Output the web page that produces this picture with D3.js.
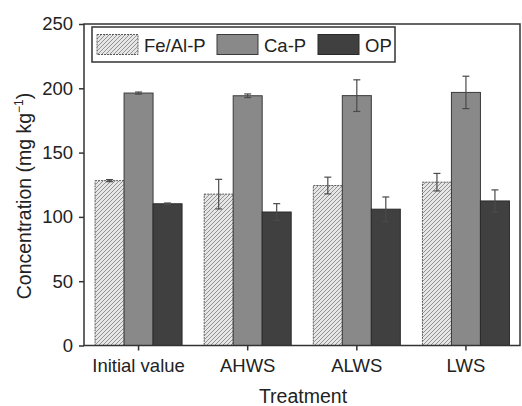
<!DOCTYPE html>
<html><head><meta charset="utf-8">
<script src="https://cdn.jsdelivr.net/npm/d3@7"></script>
<style>
html,body{margin:0;padding:0;background:#fff;}
svg{display:block;font-family:"Liberation Sans",Arial,sans-serif;}
</style></head>
<body><svg id="c" width="522" height="406"></svg>
<script>
const categories = ["Initial value","AHWS","ALWS","LWS"];
const seriesNames = ["Fe/Al-P","Ca-P","OP"];
const feAlP = [128.2, 117.7, 124.4, 127.0];
const feAlPErr = [0.8, 11.5, 6.5, 6.8];
const caP = [196.3, 194.2, 194.3, 196.8];
const caPErr = [0.8, 1.4, 12.3, 12.6];
const op = [110.2, 103.8, 106.0, 112.4];
const opErr = [0.6, 6.5, 9.5, 8.6];
const yTicks = [0,50,100,150,200,250];

const values = [feAlP, caP, op];
const errs = [feAlPErr, caPErr, opErr];
const fills = ["url(#hatch)", "#898989", "#404040"];
const strokes = ["#5a5a5a", "#3a3a3a", "#2a2a2a"];

const svg = d3.select("#c");
const L = 84, R = 520, T = 24, B = 345.5;

const defs = svg.append("defs");
const pat = defs.append("pattern").attr("id","hatch").attr("patternUnits","userSpaceOnUse")
  .attr("width",4).attr("height",4);
pat.append("rect").attr("width",4).attr("height",4).attr("fill","#e6e6e6");
pat.append("path").attr("d","M-1,1 l2,-2 M0,4 l4,-4 M3,5 l2,-2")
  .attr("stroke","#939393").attr("stroke-width",1);

const x = d3.scaleBand().domain(categories).range([L, R+0.5]).paddingInner(0).paddingOuter(0);
const groupW = 87;
const xs = d3.scaleBand().domain(seriesNames).range([0, groupW]);
const y = d3.scaleLinear().domain([0,250]).range([B, T]);

// bars
const data = [];
categories.forEach((c,i)=>seriesNames.forEach((s,j)=>data.push({c,s,j,v:values[j][i],e:errs[j][i]})));
const off = (x.bandwidth()-groupW)/2;
svg.append("g").selectAll("rect").data(data).enter().append("rect")
  .attr("x", d=>x(d.c)+off+xs(d.s))
  .attr("y", d=>y(d.v))
  .attr("width", xs.bandwidth())
  .attr("height", d=>y(0)-y(d.v))
  .attr("fill", d=>fills[d.j])
  .attr("stroke", d=>strokes[d.j])
  .attr("stroke-width",1)
  .attr("stroke-dasharray", d=>d.j===0?"2,1":null);

// error bars
const eg = svg.append("g").attr("stroke","#4a4a4a").attr("stroke-width",1.2);
data.forEach(d=>{
  const cx = x(d.c)+off+xs(d.s)+xs.bandwidth()/2;
  const y1 = y(d.v+d.e), y2 = y(d.v-d.e);
  eg.append("line").attr("x1",cx).attr("x2",cx).attr("y1",y1).attr("y2",y2);
  eg.append("line").attr("x1",cx-3.5).attr("x2",cx+3.5).attr("y1",y1).attr("y2",y1);
  eg.append("line").attr("x1",cx-3.5).attr("x2",cx+3.5).attr("y1",y2).attr("y2",y2);
});

// frame
svg.append("rect").attr("x",L).attr("y",T).attr("width",R-L).attr("height",B-T)
  .attr("fill","none").attr("stroke","#333").attr("stroke-width",1.5);

// axes
const yAxis = d3.axisLeft(y).tickValues(yTicks).tickSize(5).tickPadding(6);
const gy = svg.append("g").attr("transform",`translate(${L},0)`).call(yAxis);
gy.select(".domain").remove();
gy.selectAll("line").attr("stroke","#333").attr("stroke-width",1.5);
gy.selectAll("text").attr("font-size",18.5).attr("fill","#222").attr("font-family","Liberation Sans, Arial, sans-serif");

const xAxis = d3.axisBottom(x).tickSize(5).tickPadding(8);
const gx = svg.append("g").attr("transform",`translate(0,${B})`).call(xAxis);
gx.select(".domain").remove();
gx.selectAll("line").attr("stroke","#333").attr("stroke-width",1.5);
gx.selectAll("text").attr("font-size",18.5).attr("fill","#222").attr("font-family","Liberation Sans, Arial, sans-serif");

// axis titles
svg.append("text").attr("x",(L+R)/2+1).attr("y",403).attr("text-anchor","middle")
  .attr("font-size",19.5).attr("fill","#222").text("Treatment");
const yt = svg.append("text").attr("transform",`translate(31,196) rotate(-90)`)
  .attr("text-anchor","middle").attr("font-size",19.5).attr("fill","#222");
yt.append("tspan").text("Concentration (mg kg");
yt.append("tspan").attr("font-size",12).attr("dy",-8).text("−1");
yt.append("tspan").attr("dy",8).text(")");

// legend
const lg = svg.append("g");
const box = lg.append("rect").attr("x",92).attr("y",27).attr("width",303).attr("height",35)
  .attr("fill","#fff").attr("stroke","#333").attr("stroke-width",1.5);
const swatchX = [97, 217, 318];
let lastEnd = 0;
seriesNames.forEach((s,j)=>{
  lg.append("rect").attr("x",swatchX[j]).attr("y",34.5).attr("width",41).attr("height",20)
    .attr("fill",fills[j]).attr("stroke",strokes[j]).attr("stroke-width",1)
    .attr("stroke-dasharray", j===0?"2,1":null);
  const t = lg.append("text").attr("x",swatchX[j]+47).attr("y",51.5).attr("font-size",18.5).attr("fill","#222").text(s);
  lastEnd = swatchX[j]+47+t.node().getComputedTextLength();
});
box.attr("width", Math.max(303, lastEnd + 3 - 92));
</script></body></html>
